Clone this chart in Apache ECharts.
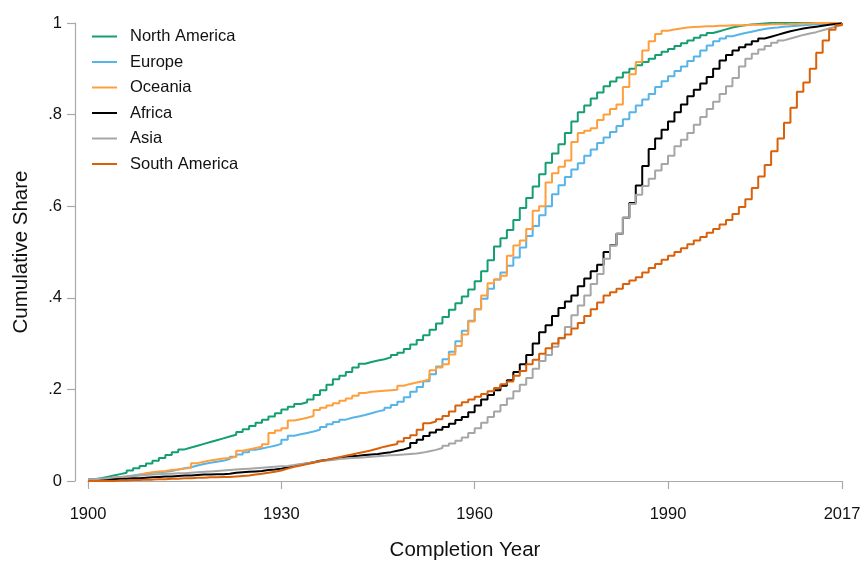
<!DOCTYPE html>
<html>
<head>
<meta charset="utf-8">
<script src="https://cdn.jsdelivr.net/npm/echarts@6/dist/echarts.min.js"></script>
<style>
  html, body { margin: 0; padding: 0; background: #fff; }
  #chart { width: 865px; height: 566px; }
</style>
</head>
<body>
<div id="chart"></div>
<script>
// Completion years 1900..2017 (one value per year)
const startYear = 1900;
const endYear = 2017;

const regions = ['North America', 'Europe', 'Oceania', 'Africa', 'Asia', 'South America'];
const colors = ['#159e74', '#56b4e9', '#ff9f3c', '#000000', '#a6a6a6', '#d9610a'];

const xTicks = [1900, 1930, 1960, 1990, 2017];
const yTicks = [0, 0.2, 0.4, 0.6, 0.8, 1];

// Cumulative share of completions by year, per region
const northAmerica = [
  .004, .006, .009, .012, .015, .018, .023, .028, .033, .038,
  .044, .050, .057, .063, .069, .073, .077, .081, .085, .089,
  .093, .097, .101, .107, .113, .120, .127, .134, .141, .148,
  .156, .162, .168, .172, .178, .188, .198, .210, .222, .230,
  .238, .248, .256, .260, .263, .266, .270, .275, .280, .288,
  .298, .308, .318, .330, .344, .358, .374, .388, .403, .418,
  .436, .458, .482, .512, .530, .548, .570, .596, .618, .643,
  .670, .695, .715, .735, .760, .785, .805, .820, .835, .848,
  .862, .872, .881, .892, .900, .908, .915, .922, .930, .937,
  .943, .950, .956, .962, .968, .973, .978, .982, .986, .990,
  .993, .995, .997, .998, .999, 1, 1, 1, 1, 1,
  1, 1, 1, 1, 1, 1, 1, 1
];
const europe = [
  .000, .002, .004, .006, .008, .010, .012, .014, .016, .018,
  .019, .020, .022, .025, .028, .030, .034, .037, .040, .042,
  .044, .048, .053, .058, .063, .068, .071, .074, .077, .081,
  .090, .099, .102, .105, .108, .112, .118, .124, .129, .134,
  .138, .141, .144, .148, .152, .155, .160, .166, .173, .183,
  .195, .205, .218, .233, .250, .266, .282, .305, .328, .350,
  .375, .398, .420, .440, .455, .470, .488, .510, .535, .557,
  .580, .600, .626, .646, .664, .680, .694, .710, .724, .738,
  .750, .762, .775, .790, .805, .820, .833, .845, .860, .873,
  .884, .895, .905, .917, .927, .940, .951, .960, .966, .971,
  .975, .978, .981, .984, .987, .989, .990, .992, .993, .994,
  .995, .996, .997, .998, .999, .999, 1, 1
];
const oceania = [
  .004, .004, .005, .006, .007, .008, .010, .013, .017, .019,
  .021, .022, .024, .025, .027, .029, .039, .042, .045, .047,
  .049, .050, .053, .066, .069, .072, .075, .080, .105, .110,
  .115, .132, .135, .138, .142, .155, .160, .165, .170, .175,
  .180, .186, .192, .195, .196, .197, .198, .199, .208, .212,
  .215, .218, .222, .242, .248, .255, .276, .295, .320, .348,
  .375, .405, .432, .440, .448, .492, .514, .525, .550, .590,
  .600, .652, .672, .686, .700, .740, .760, .765, .770, .788,
  .800, .812, .822, .860, .888, .915, .940, .960, .976, .983,
  .986, .988, .990, .991, .992, .993, .993, .994, .994, .995,
  .995, .995, .996, .996, .996, .997, .997, .997, .998, .998,
  .999, .999, 1, 1, 1, 1, 1, 1
];
const africa = [
  .003, .003, .004, .004, .005, .005, .006, .006, .007, .008,
  .009, .010, .010, .011, .012, .012, .013, .014, .014, .015,
  .015, .016, .018, .019, .020, .021, .022, .024, .025, .027,
  .030, .033, .036, .038, .041, .044, .046, .048, .051, .053,
  .054, .055, .057, .058, .059, .061, .063, .066, .069, .073,
  .083, .090, .098, .106, .112, .118, .125, .133, .140, .150,
  .165, .178, .188, .198, .208, .220, .238, .255, .275, .300,
  .325, .340, .360, .378, .392, .405, .425, .442, .458, .472,
  .500, .515, .540, .575, .607, .645, .688, .725, .748, .767,
  .785, .805, .822, .840, .854, .868, .882, .900, .918, .930,
  .940, .947, .953, .960, .966, .970, .974, .978, .982, .985,
  .988, .990, .992, .994, .996, .998, .999, 1
];
const asia = [
  .004, .005, .006, .008, .009, .010, .011, .012, .013, .014,
  .015, .016, .016, .017, .017, .018, .019, .020, .021, .022,
  .023, .024, .025, .026, .027, .028, .029, .030, .031, .032,
  .033, .035, .037, .039, .041, .043, .045, .046, .048, .049,
  .050, .051, .052, .053, .054, .055, .056, .057, .058, .059,
  .060, .062, .065, .068, .072, .077, .082, .088, .095, .105,
  .115, .127, .140, .152, .166, .180, .196, .210, .225, .245,
  .262, .275, .293, .311, .336, .362, .383, .405, .430, .452,
  .485, .514, .540, .575, .605, .625, .644, .660, .678, .692,
  .710, .731, .745, .760, .778, .795, .812, .828, .845, .862,
  .880, .905, .922, .933, .942, .950, .957, .962, .966, .970,
  .974, .977, .980, .984, .988, .992, .996, 1
];
const southAmerica = [
  .000, .000, .000, .000, .001, .001, .002, .002, .003, .003,
  .004, .004, .005, .005, .006, .006, .007, .007, .008, .008,
  .009, .009, .010, .011, .012, .014, .016, .018, .020, .023,
  .027, .031, .034, .037, .040, .043, .046, .049, .052, .055,
  .058, .061, .064, .067, .071, .075, .078, .081, .086, .094,
  .100, .112, .126, .130, .135, .142, .152, .165, .172, .178,
  .184, .190, .196, .203, .211, .217, .230, .240, .255, .265,
  .278, .290, .300, .312, .320, .333, .345, .360, .375, .390,
  .405, .412, .420, .430, .438, .445, .455, .465, .474, .483,
  .492, .500, .508, .517, .525, .533, .542, .550, .560, .570,
  .583, .598, .615, .640, .665, .690, .720, .748, .782, .815,
  .850, .870, .900, .935, .962, .985, .995, 1
];

const seriesValues = [northAmerica, europe, oceania, africa, asia, southAmerica];

const years = [];
for (let y = startYear; y <= endYear; y++) years.push(y);

const font = '"Liberation Sans", Arial, Helvetica, sans-serif';
const axisGray = '#a9a9a9';

function fmtShare(v) {
  if (v === 0) return '0';
  if (v === 1) return '1';
  return String(Math.round(v * 10) / 10).replace(/^0/, '');
}

const chart = echarts.init(document.getElementById('chart'), null, { renderer: 'canvas' });

chart.setOption({
  animation: false,
  backgroundColor: '#ffffff',
  color: colors,
  textStyle: { fontFamily: font },
  grid: { left: 88, right: 23, top: 23, bottom: 83, containLabel: false },
  legend: {
    orient: 'vertical',
    left: 92,
    top: 28,
    padding: 0,
    itemWidth: 25,
    itemHeight: 2,
    itemGap: 8.5,
    icon: 'rect',
    textStyle: { fontFamily: font, fontSize: 16.5, color: '#111', lineHeight: 16, padding: [0, 0, 0, 8] },
    data: regions
  },
  xAxis: {
    type: 'value',
    min: startYear,
    max: endYear,
    offset: 13,
    name: 'Completion Year',
    nameLocation: 'middle',
    nameGap: 46,
    nameTextStyle: { fontFamily: font, fontSize: 20.5, color: '#111' },
    axisLine: { show: true, lineStyle: { color: axisGray, width: 1.2 } },
    axisTick: { show: true, length: 8, lineStyle: { color: axisGray, width: 1.2 }, customValues: xTicks },
    axisLabel: { fontFamily: font, fontSize: 16.5, color: '#111', margin: 12, customValues: xTicks, formatter: (v) => String(v) },
    splitLine: { show: false }
  },
  yAxis: {
    type: 'value',
    min: 0,
    max: 1,
    interval: 0.2,
    offset: 13,
    name: 'Cumulative Share',
    nameLocation: 'middle',
    nameGap: 43,
    nameRotate: 90,
    nameTextStyle: { fontFamily: font, fontSize: 20.5, color: '#111' },
    axisLine: { show: true, lineStyle: { color: axisGray, width: 1.2 } },
    axisTick: { show: true, length: 8, lineStyle: { color: axisGray, width: 1.2 }, customValues: yTicks },
    axisLabel: { fontFamily: font, fontSize: 16.5, color: '#111', margin: 13, formatter: fmtShare, customValues: yTicks },
    splitLine: { show: false }
  },
  series: regions.map((name, i) => ({
    name: name,
    type: 'line',
    step: 'end',
    showSymbol: false,
    symbol: 'none',
    lineStyle: { width: 2, color: colors[i] },
    itemStyle: { color: colors[i] },
    data: years.map((yr, k) => [yr, seriesValues[i][k]])
  }))
});
</script>
</body>
</html>
